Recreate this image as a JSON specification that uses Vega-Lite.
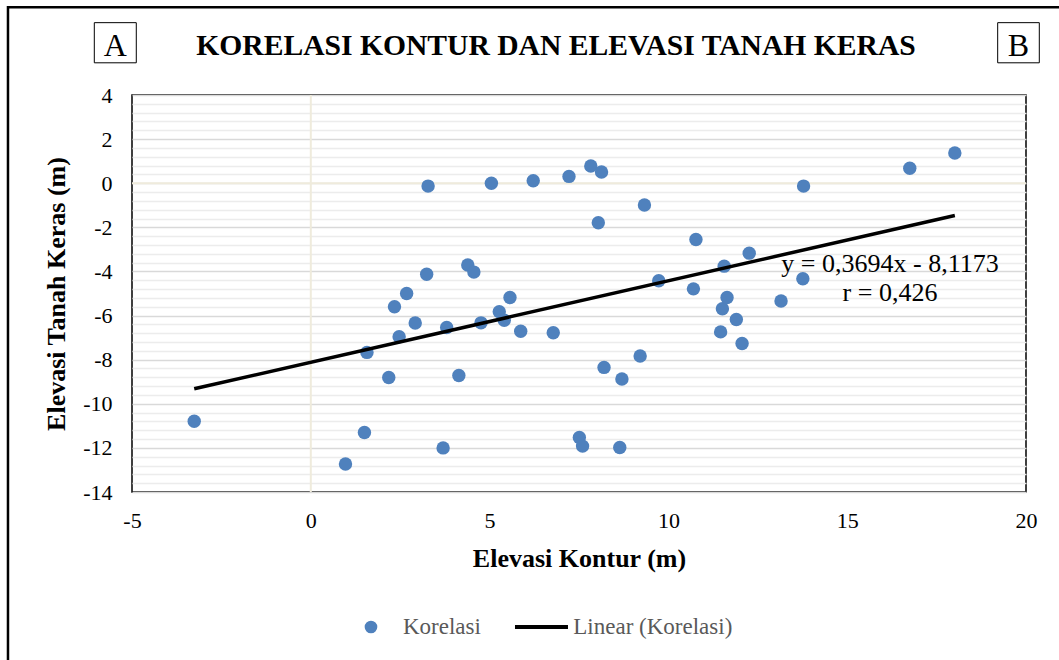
{
  "$schema": "https://vega.github.io/schema/vega-lite/v6.json",
  "width": 894,
  "height": 397,
  "autosize": {"type": "none"},
  "padding": {"left": 132, "top": 95, "right": 33, "bottom": 168},
  "background": "white",
  "config": {
    "view": {"stroke": "black", "strokeWidth": 1.5},
    "font": "Liberation Serif"
  },
  "datasets": {
    "korelasi": [
      {"kontur": -3.26, "tanah_keras": -10.79}, {"kontur": 0.97, "tanah_keras": -12.73}, {"kontur": 1.50, "tanah_keras": -11.30},
      {"kontur": 1.57, "tanah_keras": -7.67}, {"kontur": 2.18, "tanah_keras": -8.81}, {"kontur": 2.34, "tanah_keras": -5.60},
      {"kontur": 2.47, "tanah_keras": -6.96}, {"kontur": 2.68, "tanah_keras": -5.00}, {"kontur": 2.92, "tanah_keras": -6.34},
      {"kontur": 3.24, "tanah_keras": -4.13}, {"kontur": 3.28, "tanah_keras": -0.13}, {"kontur": 3.70, "tanah_keras": -12.00},
      {"kontur": 3.80, "tanah_keras": -6.54}, {"kontur": 4.14, "tanah_keras": -8.72}, {"kontur": 4.39, "tanah_keras": -3.71},
      {"kontur": 4.56, "tanah_keras": -4.03}, {"kontur": 4.76, "tanah_keras": -6.33}, {"kontur": 5.05, "tanah_keras": 0.00},
      {"kontur": 5.27, "tanah_keras": -5.83}, {"kontur": 5.41, "tanah_keras": -6.21}, {"kontur": 5.57, "tanah_keras": -5.18},
      {"kontur": 5.87, "tanah_keras": -6.71}, {"kontur": 6.22, "tanah_keras": 0.11}, {"kontur": 6.78, "tanah_keras": -6.78},
      {"kontur": 7.22, "tanah_keras": 0.31}, {"kontur": 7.51, "tanah_keras": -11.53}, {"kontur": 7.60, "tanah_keras": -11.92},
      {"kontur": 7.83, "tanah_keras": 0.78}, {"kontur": 8.04, "tanah_keras": -1.79}, {"kontur": 8.13, "tanah_keras": 0.51},
      {"kontur": 8.20, "tanah_keras": -8.35}, {"kontur": 8.64, "tanah_keras": -11.98}, {"kontur": 8.70, "tanah_keras": -8.88},
      {"kontur": 9.21, "tanah_keras": -7.83}, {"kontur": 9.33, "tanah_keras": -0.99}, {"kontur": 9.73, "tanah_keras": -4.42},
      {"kontur": 10.70, "tanah_keras": -4.79}, {"kontur": 10.77, "tanah_keras": -2.55}, {"kontur": 11.46, "tanah_keras": -6.74},
      {"kontur": 11.51, "tanah_keras": -5.69}, {"kontur": 11.56, "tanah_keras": -3.76}, {"kontur": 11.64, "tanah_keras": -5.18},
      {"kontur": 11.90, "tanah_keras": -6.18}, {"kontur": 12.06, "tanah_keras": -7.27}, {"kontur": 12.26, "tanah_keras": -3.17},
      {"kontur": 13.15, "tanah_keras": -5.34}, {"kontur": 13.76, "tanah_keras": -4.33}, {"kontur": 13.78, "tanah_keras": -0.13},
      {"kontur": 16.75, "tanah_keras": 0.68}, {"kontur": 18.01, "tanah_keras": 1.37}
    ],
    "trend": [
      {"kontur": -3.26, "tanah_keras": -9.322},
      {"kontur": 18.01, "tanah_keras": -1.464}
    ]
  },
  "resolve": {"axis": {"x": "independent", "y": "independent"}},
  "layer": [
    {
      "data": {"name": "korelasi"},
      "mark": {"type": "point", "filled": true, "size": 180, "color": "#4f81bd", "opacity": 0},
      "encoding": {
        "x": {
          "field": "kontur", "type": "quantitative",
          "scale": {"domain": [-5, 20], "nice": false, "zero": false},
          "axis": {
            "orient": "bottom",
            "title": "Elevasi Kontur (m)", "values": [-5, 0, 5, 10, 15, 20], "labelExpr": "toString(datum.value)",
            "labelFlush": false, "labelOverlap": false,
            "grid": false, "ticks": false, "tickSize": 0, "domain": false,
            "labelFont": "Liberation Serif", "labelFontSize": 22, "labelColor": "black", "labelPadding": 18,
            "titleFont": "Liberation Serif", "titleFontSize": 26, "titleFontWeight": "bold", "titleColor": "black", "titlePadding": 14
          }
        },
        "y": {
          "field": "tanah_keras", "type": "quantitative",
          "scale": {"domain": [-14, 4], "nice": false, "zero": false},
          "axis": {
            "orient": "left",
            "title": "Elevasi Tanah Keras (m)", "values": [-14, -12, -10, -8, -6, -4, -2, 0, 2, 4], "labelExpr": "toString(datum.value)",
            "labelFlush": false, "labelOverlap": false,
            "grid": true, "gridColor": "#d9d9d9", "gridWidth": 1.5,
            "ticks": false, "tickSize": 0, "domain": false,
            "labelFont": "Liberation Serif", "labelFontSize": 22, "labelColor": "black", "labelPadding": 20,
            "titleFont": "Liberation Serif", "titleFontSize": 26, "titleFontWeight": "bold", "titleColor": "black", "titlePadding": 13
          }
        }
      }
    },
    {
      "data": {"values": [{}]},
      "mark": {"type": "rect", "filled": false, "stroke": "black", "strokeWidth": 2.5},
      "encoding": {
        "x": {"datum": -8.468, "type": "quantitative", "scale": {"domain": [-5, 20], "nice": false, "zero": false}, "axis": null},
        "x2": {"datum": 21.51},
        "y": {"datum": 7.976, "type": "quantitative", "scale": {"domain": [-14, 4], "nice": false, "zero": false}, "axis": null},
        "y2": {"datum": -22.98}
      }
    },
    {
      "data": {"values": [{}]},
      "mark": {"type": "rect", "filled": false, "stroke": "black", "strokeWidth": 1},
      "encoding": {
        "x": {"datum": -6.054, "type": "quantitative", "scale": {"domain": [-5, 20], "nice": false, "zero": false}, "axis": null},
        "x2": {"datum": -4.88},
        "y": {"datum": 7.28, "type": "quantitative", "scale": {"domain": [-14, 4], "nice": false, "zero": false}, "axis": null},
        "y2": {"datum": 5.46}
      }
    },
    {
      "data": {"values": [{}]},
      "mark": {"type": "rect", "filled": false, "stroke": "black", "strokeWidth": 1},
      "encoding": {
        "x": {"datum": 19.208, "type": "quantitative", "scale": {"domain": [-5, 20], "nice": false, "zero": false}, "axis": null},
        "x2": {"datum": 20.372},
        "y": {"datum": 7.28, "type": "quantitative", "scale": {"domain": [-14, 4], "nice": false, "zero": false}, "axis": null},
        "y2": {"datum": 5.46}
      }
    },
    {
      "data": {"values": [{}]},
      "mark": {"type": "text", "text": "A", "font": "Liberation Serif", "fontSize": 32, "align": "center", "baseline": "alphabetic", "color": "black"},
      "encoding": {
        "x": {"datum": -5.467, "type": "quantitative", "scale": {"domain": [-5, 20], "nice": false, "zero": false}, "axis": null},
        "y": {"datum": 5.79, "type": "quantitative", "scale": {"domain": [-14, 4], "nice": false, "zero": false}, "axis": null}
      }
    },
    {
      "data": {"values": [{}]},
      "mark": {"type": "text", "text": "B", "font": "Liberation Serif", "fontSize": 32, "align": "center", "baseline": "alphabetic", "color": "black"},
      "encoding": {
        "x": {"datum": 19.79, "type": "quantitative", "scale": {"domain": [-5, 20], "nice": false, "zero": false}, "axis": null},
        "y": {"datum": 5.79, "type": "quantitative", "scale": {"domain": [-14, 4], "nice": false, "zero": false}, "axis": null}
      }
    },
    {
      "data": {"values": [{}]},
      "mark": {"type": "text", "text": "KORELASI KONTUR DAN ELEVASI TANAH KERAS", "font": "Liberation Serif", "fontSize": 29.6, "fontWeight": "bold", "align": "center", "baseline": "alphabetic", "color": "black"},
      "encoding": {
        "x": {"datum": 6.857, "type": "quantitative", "scale": {"domain": [-5, 20], "nice": false, "zero": false}, "axis": null},
        "y": {"datum": 5.814, "type": "quantitative", "scale": {"domain": [-14, 4], "nice": false, "zero": false}, "axis": null}
      }
    },
    {
      "data": {"values": [{}]},
      "mark": {"type": "rule", "color": "#efebdc", "strokeWidth": 2},
      "encoding": {
        "x": {"datum": 0, "type": "quantitative", "scale": {"domain": [-5, 20], "nice": false, "zero": false}, "axis": null}
      }
    },
    {
      "data": {"values": [{}]},
      "mark": {"type": "rule", "color": "#efebdc", "strokeWidth": 2},
      "encoding": {
        "y": {"datum": 0, "type": "quantitative", "scale": {"domain": [-14, 4], "nice": false, "zero": false}, "axis": null}
      }
    },
    {
      "data": {"name": "korelasi"},
      "mark": {"type": "point", "filled": true, "size": 180, "color": "#4f81bd", "opacity": 1},
      "encoding": {
        "x": {"field": "kontur", "type": "quantitative", "scale": {"domain": [-5, 20], "nice": false, "zero": false}, "axis": null},
        "y": {"field": "tanah_keras", "type": "quantitative", "scale": {"domain": [-14, 4], "nice": false, "zero": false}, "axis": null}
      }
    },
    {
      "data": {"name": "trend"},
      "mark": {"type": "line", "color": "black", "strokeWidth": 3.5},
      "encoding": {
        "x": {"field": "kontur", "type": "quantitative", "scale": {"domain": [-5, 20], "nice": false, "zero": false}, "axis": null},
        "y": {
          "field": "tanah_keras", "type": "quantitative",
          "scale": {"domain": [-14, 4], "nice": false, "zero": false},
          "axis": {
            "orient": "right", "title": null, "labels": false, "ticks": false, "domain": false,
            "grid": true, "gridColor": "#ececec", "gridWidth": 1.5,
            "values": [-13.6, -13.2, -12.8, -12.4, -11.6, -11.2, -10.8, -10.4, -9.6, -9.2, -8.8, -8.4, -7.6, -7.2, -6.8, -6.4, -5.6, -5.2, -4.8, -4.4, -3.6, -3.2, -2.8, -2.4, -1.6, -1.2, -0.8, -0.4, 0.4, 0.8, 1.2, 1.6, 2.4, 2.8, 3.2, 3.6]
          }
        }
      }
    },
    {
      "data": {"values": [{}]},
      "mark": {"type": "text", "text": "y = 0,3694x - 8,1173", "font": "Liberation Serif", "fontSize": 26, "align": "center", "baseline": "alphabetic", "color": "black"},
      "encoding": {
        "x": {"datum": 16.197, "type": "quantitative", "scale": {"domain": [-5, 20], "nice": false, "zero": false}, "axis": null},
        "y": {"datum": -4.011, "type": "quantitative", "scale": {"domain": [-14, 4], "nice": false, "zero": false}, "axis": null}
      }
    },
    {
      "data": {"values": [{}]},
      "mark": {"type": "text", "text": "r = 0,426", "font": "Liberation Serif", "fontSize": 26, "align": "center", "baseline": "alphabetic", "color": "black"},
      "encoding": {
        "x": {"datum": 16.197, "type": "quantitative", "scale": {"domain": [-5, 20], "nice": false, "zero": false}, "axis": null},
        "y": {"datum": -5.34, "type": "quantitative", "scale": {"domain": [-14, 4], "nice": false, "zero": false}, "axis": null}
      }
    },
    {
      "data": {"values": [{}]},
      "mark": {"type": "point", "filled": true, "size": 160, "color": "#4f81bd", "opacity": 1},
      "encoding": {
        "x": {"datum": 1.683, "type": "quantitative", "scale": {"domain": [-5, 20], "nice": false, "zero": false}, "axis": null},
        "y": {"datum": -20.12, "type": "quantitative", "scale": {"domain": [-14, 4], "nice": false, "zero": false}, "axis": null}
      }
    },
    {
      "data": {"values": [{}]},
      "mark": {"type": "text", "text": "Korelasi", "font": "Liberation Serif", "fontSize": 23, "align": "left", "baseline": "alphabetic", "color": "#595959"},
      "encoding": {
        "x": {"datum": 2.578, "type": "quantitative", "scale": {"domain": [-5, 20], "nice": false, "zero": false}, "axis": null},
        "y": {"datum": -20.438, "type": "quantitative", "scale": {"domain": [-14, 4], "nice": false, "zero": false}, "axis": null}
      }
    },
    {
      "data": {"values": [{}]},
      "mark": {"type": "rule", "color": "black", "strokeWidth": 4},
      "encoding": {
        "x": {"datum": 5.71, "type": "quantitative", "scale": {"domain": [-5, 20], "nice": false, "zero": false}, "axis": null},
        "x2": {"datum": 7.192},
        "y": {"datum": -20.12, "type": "quantitative", "scale": {"domain": [-14, 4], "nice": false, "zero": false}, "axis": null}
      }
    },
    {
      "data": {"values": [{}]},
      "mark": {"type": "text", "text": "Linear (Korelasi)", "font": "Liberation Serif", "fontSize": 23, "align": "left", "baseline": "alphabetic", "color": "#595959"},
      "encoding": {
        "x": {"datum": 7.341, "type": "quantitative", "scale": {"domain": [-5, 20], "nice": false, "zero": false}, "axis": null},
        "y": {"datum": -20.438, "type": "quantitative", "scale": {"domain": [-14, 4], "nice": false, "zero": false}, "axis": null}
      }
    }
  ]
}
